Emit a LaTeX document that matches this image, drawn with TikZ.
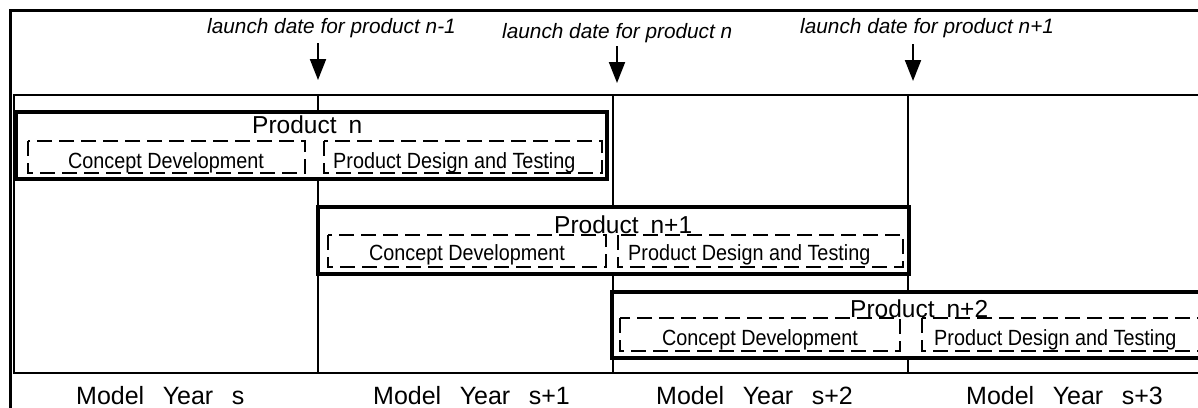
\documentclass[tikz,border=0pt]{standalone}
\usepackage{fontspec}
\setmainfont{Liberation Sans}
\newfontfamily\narrowsans[FakeStretch=0.9]{Liberation Sans}
\usetikzlibrary{arrows.meta}
\tikzset{
	prodbox/.style={line width=4.5pt},
	phasebox/.style={line width=2pt,dash pattern=on 15pt off 7pt},
	launch/.style={anchor=base west,inner sep=0pt,font=\fontsize{20.8}{24}\selectfont\itshape},
	prodtitle/.style={anchor=base west,inner sep=0pt,font=\fontsize{24.5}{28}\selectfont},
	phase/.style={anchor=base west,inner sep=0pt,font=\narrowsans\fontsize{22}{26}\selectfont},
	year/.style={anchor=base west,inner sep=0pt,font=\fontsize{25}{29}\selectfont},
	launcharrow/.style={line width=2pt,-{Triangle[width=16pt,length=21pt]}}
}
\newcommand{\gapw}{\hspace{18.5pt}}
\newcommand{\gapp}{\hspace{12pt}}
\begin{document}
\begin{tikzpicture}[x=1pt,y=-1pt]
				\useasboundingbox (0,0) rectangle (1198,407);
				\clip (0,0) rectangle (1198,407);
				\fill[white] (0,0) rectangle (1198,407);
				\draw[line width=3pt] (1220,10) -- (10,10) -- (10,420);
				\draw[line width=2pt] (1220,95) -- (13.5,95) -- (13.5,373) -- (1220,373);
				\draw[line width=1.5pt] (318,95) -- (318,373);
				\draw[line width=1.5pt] (613,95) -- (613,373);
				\draw[line width=1.5pt] (908,95) -- (908,373);
				\node[launch] (l1) at (207,33) {launch date for product n-1};
				\node[launch] (l2) at (502,38) {launch date for product n};
				\node[launch] (l3) at (800,33) {launch date for product n+1};
				\coordinate (t1) at (318,43);
				\coordinate (h1) at (318,80);
				\coordinate (t2) at (617,46);
				\coordinate (h2) at (617,83);
				\coordinate (t3) at (913,44);
				\coordinate (h3) at (913,81);
				\draw[launcharrow] (t1) -- (h1);
				\draw[launcharrow] (t2) -- (h2);
				\draw[launcharrow] (t3) -- (h3);
				\draw[prodbox,fill=white] (16,112) rectangle (607,179);
				\draw[phasebox] (28,141) rectangle (305,173);
				\draw[phasebox] (324,141) rectangle (602,173);
				\node[prodtitle] (p1) at (252,133) {Product\gapp n};
				\node[phase,anchor=base] (c1) at (166,168) {Concept Development};
				\node[phase] (d1) at (333,168) {Product Design and Testing};
				\draw[prodbox,fill=white] (318,207) rectangle (909,274);
				\draw[phasebox] (328,235) rectangle (606,267);
				\draw[phasebox] (618,235) rectangle (903,267);
				\node[prodtitle] (p2) at (554,233) {Product\gapp n+1};
				\node[phase,anchor=base] (c2) at (467,260) {Concept Development};
				\node[phase] (d2) at (628,260) {Product Design and Testing};
				\draw[prodbox,fill=white] (612,292) rectangle (1215,358);
				\draw[phasebox] (620,318) rectangle (900,351);
				\draw[phasebox] (922,318) rectangle (1210,351);
				\node[prodtitle] (p3) at (850,317) {Product\gapp n+2};
				\node[phase,anchor=base] (c3) at (760,345) {Concept Development};
				\node[phase] (d3) at (934,345) {Product Design and Testing};
				\node[year] (y1) at (76,404) {Model\gapw Year\gapw s};
				\node[year] (y2) at (373,404) {Model\gapw Year\gapw s+1};
				\node[year] (y3) at (656,404) {Model\gapw Year\gapw s+2};
				\node[year] (y4) at (966,404) {Model\gapw Year\gapw s+3};
			\end{tikzpicture}
\end{document}
